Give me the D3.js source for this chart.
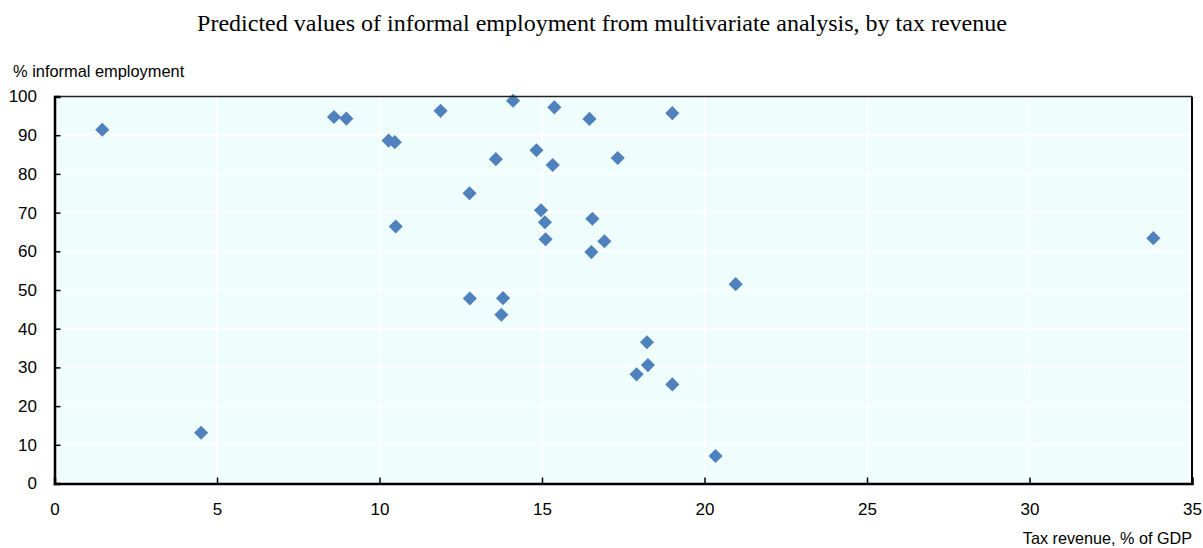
<!DOCTYPE html>
<html><head><meta charset="utf-8">
<script src="https://cdn.jsdelivr.net/npm/d3@7"></script>
<style>body{margin:0;background:#fff;}svg{display:block;}</style>
</head><body>
<svg id="chart" width="1203" height="548"></svg>
<script>
const taxRevenue = [1.47, 4.51, 8.60, 8.98, 11.88, 14.11, 15.38, 16.46, 19.01, 10.28, 10.47, 14.83, 13.58, 15.33, 17.33, 12.77, 14.97, 15.09, 10.50, 16.55, 15.11, 16.92, 16.52, 20.96, 12.78, 13.80, 13.75, 18.23, 18.26, 17.91, 19.01, 20.34, 33.81];
const informal = [91.4, 13.1, 94.7, 94.3, 96.3, 98.9, 97.2, 94.2, 95.7, 88.6, 88.2, 86.1, 83.8, 82.3, 84.1, 75.0, 70.6, 67.5, 66.4, 68.4, 63.1, 62.6, 59.8, 51.5, 47.8, 47.9, 43.6, 36.5, 30.6, 28.2, 25.6, 7.1, 63.4];
const xTicks = [0, 5, 10, 15, 20, 25, 30, 35];
const yTicks = [0, 10, 20, 30, 40, 50, 60, 70, 80, 90, 100];
const titleText = "Predicted values of informal employment from multivariate analysis, by tax revenue";
const yLabel = "% informal employment";
const xLabel = "Tax revenue, % of GDP";

const svg = d3.select("#chart");
const L = 54.5, R = 1192, T = 96.5, B = 483.5;
const x = d3.scaleLinear().domain([0, 35]).range([L, R]);
const y = d3.scaleLinear().domain([0, 100]).range([B, T]);
const SANS = "Liberation Sans, Arial, sans-serif";

svg.append("rect").attr("x", L).attr("y", T).attr("width", R - L).attr("height", B - T).attr("fill", "#f0fdfd");

// gridlines
svg.append("g").selectAll("line").data(yTicks.filter(d => d > 0 && d < 100)).join("line")
  .attr("x1", L).attr("x2", R).attr("y1", d => y(d)).attr("y2", d => y(d))
  .attr("stroke", "#fff").attr("stroke-width", 1.5);
svg.append("g").selectAll("line").data(xTicks.filter(d => d > 0 && d < 35)).join("line")
  .attr("y1", T).attr("y2", B).attr("x1", d => x(d)).attr("x2", d => x(d))
  .attr("stroke", "#fff").attr("stroke-width", 1.5);

// points
const diamond = d3.symbol().type(d3.symbolSquare).size(100);
svg.append("g").selectAll("path").data(taxRevenue.map((v, i) => [v, informal[i]])).join("path")
  .attr("d", diamond)
  .attr("transform", d => `translate(${x(d[0])},${y(d[1])}) rotate(45)`)
  .attr("fill", "#4f81bd");

// frame
svg.append("line").attr("x1", L).attr("x2", R).attr("y1", T).attr("y2", T).attr("stroke", "#222").attr("stroke-width", 1.5);
svg.append("line").attr("x1", R).attr("x2", R).attr("y1", T).attr("y2", B).attr("stroke", "#000").attr("stroke-width", 2);

// axes
const yAxis = d3.axisLeft(y).tickValues(yTicks).tickSize(-6).tickPadding(17.5).tickFormat(d3.format("d"));
const gy = svg.append("g").attr("transform", `translate(${L},0)`).call(yAxis);
gy.select(".domain").attr("stroke", "#000").attr("stroke-width", 2.5);
gy.selectAll(".tick line").attr("stroke", "#000").attr("stroke-width", 1.5);
gy.selectAll("text").attr("font-family", SANS).attr("font-size", 17).attr("fill", "#000");

const xAxis = d3.axisBottom(x).tickValues(xTicks).tickSize(-6).tickPadding(19.5).tickFormat(d3.format("d"));
const gx = svg.append("g").attr("transform", `translate(0,${B})`).call(xAxis);
gx.select(".domain").attr("stroke", "#000").attr("stroke-width", 2.5);
gx.selectAll(".tick line").attr("stroke", "#000").attr("stroke-width", 1.5);
gx.selectAll("text").attr("font-family", SANS).attr("font-size", 17).attr("fill", "#000");

// labels
svg.append("text").attr("x", 602).attr("y", 31).attr("text-anchor", "middle")
  .attr("font-family", "Liberation Serif, Times New Roman, serif").attr("font-size", 24).attr("fill", "#000").text(titleText);
svg.append("text").attr("x", 13).attr("y", 77)
  .attr("font-family", SANS).attr("font-size", 16.4).attr("fill", "#000").text(yLabel);
svg.append("text").attr("x", 1192).attr("y", 544).attr("text-anchor", "end")
  .attr("font-family", SANS).attr("font-size", 16.2).attr("fill", "#000").text(xLabel);
</script>
</body></html>
